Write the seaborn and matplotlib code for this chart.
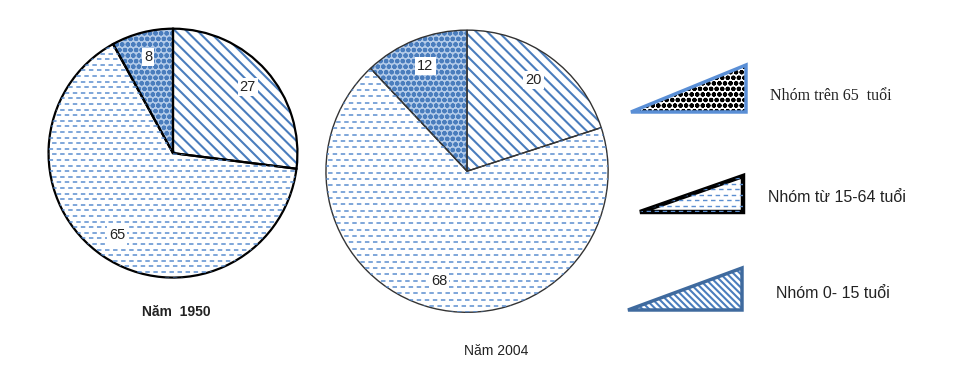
import numpy as np
import matplotlib
matplotlib.use('Agg')
import matplotlib.pyplot as plt
import seaborn as sns
from matplotlib.patches import Polygon

# dữ liệu cơ cấu dân số theo nhóm tuổi (%)
groups = ['Nhóm 0- 15 tuổi', 'Nhóm từ 15-64 tuổi', 'Nhóm trên 65  tuổi']
values_1950 = [27, 65, 8]
values_2004 = [20, 68, 12]
years = ['1950', '2004']

sns.set_theme(style='white')
plt.rcParams['font.family'] = ['Liberation Sans', 'DejaVu Sans']
plt.rcParams['hatch.linewidth'] = 1.5
plt.rcParams['lines.scale_dashes'] = False

blue = '#4a7dbd'
dash_blue = '#5b8ed0'
hatches = ['\\\\\\', None, 'ooo']
faces = ['white', 'white', '#b3cbe9']

fig = plt.figure(figsize=(9.6, 3.69), dpi=100)


def dash_fill(ax, patch, step=0.045):
    # các vạch ngang đứt quãng cho nhóm 15-64
    for i, y in enumerate(np.arange(-1.0, 1.0, step)):
        ln, = ax.plot([-1.1, 1.1], [y, y], color=dash_blue, lw=1.1,
                      linestyle=(2.5 * (i % 2), (3.2, 2.6)))
        ln.set_clip_path(patch)


def draw_pie(rect, values, edge, lw, title, title_xy, bold_title):
    ax = fig.add_axes(rect)
    wedges, _, autotexts = ax.pie(values, startangle=90, counterclock=False,
                                  colors=faces, autopct=lambda p: f'{p:.0f}',
                                  pctdistance=0.8,
                                  wedgeprops=dict(linewidth=0, edgecolor=blue))
    for w, h in zip(wedges, hatches):
        if h:
            w.set_hatch(h)
    dash_fill(ax, wedges[1])
    ax.pie(values, startangle=90, counterclock=False,
           wedgeprops=dict(fill=False, edgecolor=edge, linewidth=lw))
    for t in autotexts:
        t.set_fontsize(10.5)
        t.set_color('#222222')
        t.set_bbox(dict(facecolor='white', edgecolor='none', pad=1.5))
    ax.set_xlim(-1.02, 1.02)
    ax.set_ylim(-1.02, 1.02)
    fig.text(title_xy[0] / 960, 1 - title_xy[1] / 369, title, ha='center',
             va='center', fontsize=10, color='#222222',
             fontweight='bold' if bold_title else 'normal')


draw_pie([0.0479, 0.241, 0.2646, 0.688], values_1950, 'black', 1.6,
         'Năm  ' + years[0], (176, 312), True)
draw_pie([0.3365, 0.146, 0.30, 0.780], values_2004, '#333333', 1.0,
         'Năm ' + years[1], (496, 351), False)

# chú giải dạng tam giác
lax = fig.add_axes([0, 0, 1, 1])
lax.set_xlim(0, 960)
lax.set_ylim(369, 0)
lax.axis('off')

tri_top = [(631, 112), (746, 65), (746, 112)]
tri_mid = [(640, 212), (743, 176), (743, 212)]
tri_bot = [(628, 310), (742, 268), (742, 310)]

p = Polygon(tri_top, closed=True, facecolor='white', edgecolor='black',
            hatch='ooo', lw=0)
lax.add_patch(p)
lax.add_patch(Polygon(tri_top, closed=True, fill=False, edgecolor='#5a8fd6', lw=2.5))

p = Polygon(tri_mid, closed=True, facecolor='white', edgecolor='none', lw=0)
lax.add_patch(p)
for i, y in enumerate(np.arange(178, 212, 5.5)):
    ln, = lax.plot([630, 750], [y, y], color=dash_blue, lw=1.0,
                   linestyle=(2.5 * (i % 2), (3.2, 2.6)))
    ln.set_clip_path(p)
lax.add_patch(Polygon(tri_mid, closed=True, fill=False, edgecolor='black', lw=3.2))

p = Polygon(tri_bot, closed=True, facecolor='white', edgecolor=blue,
            hatch='\\\\\\\\\\', lw=0)
lax.add_patch(p)
lax.add_patch(Polygon(tri_bot, closed=True, fill=False, edgecolor='#3f6a9e', lw=2.5))

lax.text(770, 96, groups[2], fontsize=11.5, va='center', color='#222222',
         family=['Liberation Serif', 'DejaVu Serif'])
lax.text(768, 198, groups[1], fontsize=11.5, va='center', color='#222222')
lax.text(776, 293, groups[0], fontsize=11.5, va='center', color='#222222')

fig.savefig('out.png', dpi=100, facecolor='white')
